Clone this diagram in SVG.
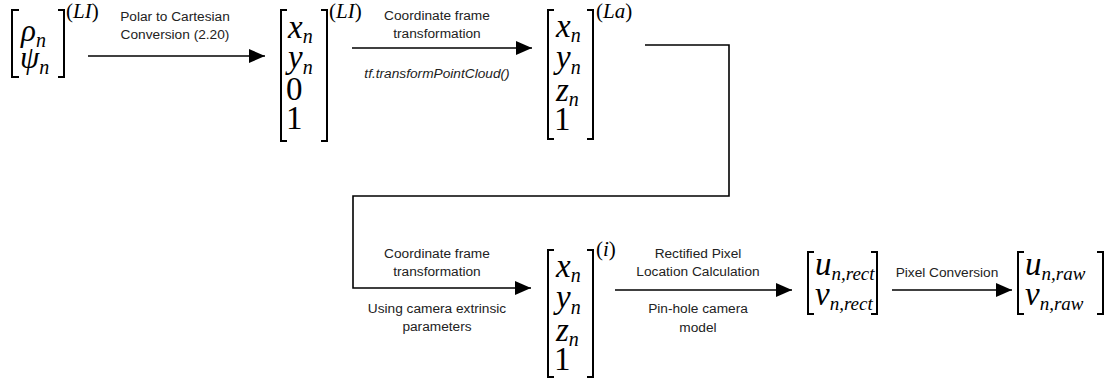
<svg xmlns="http://www.w3.org/2000/svg" width="1113" height="383" viewBox="0 0 1113 383">
  <style>
    .m { font-family: "Liberation Serif", "Times New Roman", serif; font-style: italic; font-size: 33px; fill: #000; }
    .m.sm { font-size: 31px; }
    .up { font-style: normal; }
    .s { font-size: 20px; }
    .ss { font-size: 19px; }
    .sup { font-family: "Liberation Serif", "Times New Roman", serif; font-size: 21px; fill: #000; }
    .sup .i { font-style: italic; }
    .lbl { font-family: "Liberation Sans", Arial, sans-serif; font-size: 13.7px; text-anchor: middle; fill: #222; }
    .it { font-style: italic; }
    .br { fill: none; stroke: #000; stroke-width: 2; }
    .conn { fill: none; stroke: #000; stroke-width: 1.6; }
  </style>
  <defs>
    <marker id="arrow" markerUnits="userSpaceOnUse" markerWidth="16" markerHeight="14" refX="16" refY="7" orient="auto">
      <path d="M0,0 L16,7 L0,14 Z" fill="#000"/>
    </marker>
  </defs>

  <!-- polar coordinates -->
  <g id="node-polar">
    <path class="br" d="M19,10 H12 V77 H19"/>
    <path class="br" d="M58,10 H64 V77 H58"/>
    <text class="m sm" x="21" y="41">ρ<tspan class="s" dy="6">n</tspan></text>
    <text class="m sm" x="20" y="68">ψ<tspan class="s" dy="6">n</tspan></text>
    <text class="sup" x="66" y="18">(<tspan class="i">LI</tspan>)</text>
  </g>

  <!-- homogeneous lidar-frame point -->
  <g id="node-lidar">
    <path class="br" d="M287,10 H281 V141 H287"/>
    <path class="br" d="M321,10 H327 V141 H321"/>
    <text class="m" x="288" y="38">x<tspan class="s" dy="5">n</tspan></text>
    <text class="m" x="288" y="68">y<tspan class="s" dy="6">n</tspan></text>
    <text class="m up" x="286" y="100">0</text>
    <text class="m up" x="286" y="129">1</text>
    <text class="sup" x="329" y="18">(<tspan class="i">LI</tspan>)</text>
  </g>

  <!-- point in La frame -->
  <g id="node-la">
    <path class="br" d="M554,10 H548 V139 H554"/>
    <path class="br" d="M587,10 H593 V139 H587"/>
    <text class="m" x="556" y="37">x<tspan class="s" dy="5">n</tspan></text>
    <text class="m" x="556" y="68">y<tspan class="s" dy="6">n</tspan></text>
    <text class="m" x="556" y="101">z<tspan class="s" dy="5">n</tspan></text>
    <text class="m up" x="554" y="130">1</text>
    <text class="sup" x="596" y="18">(<tspan class="i">La</tspan>)</text>
  </g>

  <!-- point in camera frame -->
  <g id="node-cam">
    <path class="br" d="M554,250 H548 V377 H554"/>
    <path class="br" d="M587,250 H593 V377 H587"/>
    <text class="m" x="556" y="277">x<tspan class="s" dy="5">n</tspan></text>
    <text class="m" x="556" y="308">y<tspan class="s" dy="6">n</tspan></text>
    <text class="m" x="556" y="341">z<tspan class="s" dy="5">n</tspan></text>
    <text class="m up" x="554" y="370">1</text>
    <text class="sup" x="596" y="256">(<tspan class="i">i</tspan>)</text>
  </g>

  <!-- rectified pixel location -->
  <g id="node-rect">
    <path class="br" d="M814,252 H808 V314 H814"/>
    <path class="br" d="M871,252 H877 V314 H871"/>
    <text class="m" x="815" y="275">u<tspan class="ss" dy="5">n,rect</tspan></text>
    <text class="m" x="815" y="305">v<tspan class="ss" dy="5">n,rect</tspan></text>
  </g>

  <!-- raw pixel location -->
  <g id="node-raw">
    <path class="br" d="M1024,252 H1018 V314 H1024"/>
    <path class="br" d="M1097,252 H1103 V314 H1097"/>
    <text class="m" x="1025" y="275">u<tspan class="ss" dy="5">n,raw</tspan></text>
    <text class="m" x="1025" y="305">v<tspan class="ss" dy="5">n,raw</tspan></text>
  </g>

  <g id="connectors">
    <path class="conn" d="M88,56 H265" marker-end="url(#arrow)"/>
    <path class="conn" d="M352,48 H532" marker-end="url(#arrow)"/>
    <path class="conn" d="M645,45 H729 V196 H353 V288 H531" marker-end="url(#arrow)"/>
    <path class="conn" d="M615,290 H792" marker-end="url(#arrow)"/>
    <path class="conn" d="M892,290 H1012" marker-end="url(#arrow)"/>
  </g>

  <g id="labels">
    <text class="lbl" x="175" y="21">Polar to Cartesian</text>
    <text class="lbl" x="175" y="39">Conversion (2.20)</text>

    <text class="lbl" x="437" y="20">Coordinate frame</text>
    <text class="lbl" x="437" y="38">transformation</text>
    <text class="lbl it" x="437" y="78">tf.transformPointCloud()</text>

    <text class="lbl" x="437" y="258">Coordinate frame</text>
    <text class="lbl" x="437" y="276">transformation</text>
    <text class="lbl" x="437" y="313">Using camera extrinsic</text>
    <text class="lbl" x="437" y="331">parameters</text>

    <text class="lbl" x="698" y="258">Rectified Pixel</text>
    <text class="lbl" x="698" y="276">Location Calculation</text>
    <text class="lbl" x="698" y="313">Pin-hole camera</text>
    <text class="lbl" x="698" y="332">model</text>

    <text class="lbl" x="947" y="277">Pixel Conversion</text>
  </g>
</svg>
